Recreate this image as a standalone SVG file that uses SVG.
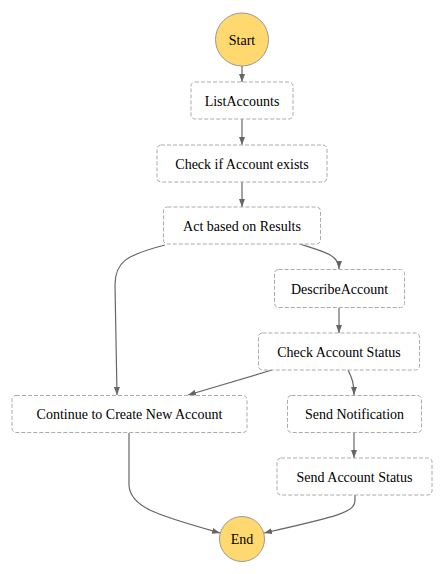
<svg xmlns="http://www.w3.org/2000/svg" width="444" height="574" viewBox="0 0 444 574">
<style>
.node rect{fill:#fff;stroke:#aaa;stroke-width:1;stroke-dasharray:4 2}
.term circle{fill:#ffd970;stroke:#999;stroke-width:1}
text{font-family:"Liberation Serif","Times New Roman",serif;font-size:14px;fill:#000;text-anchor:middle}
.edges path{fill:none;stroke:#666;stroke-width:1.2;marker-end:url(#arr)}
</style>
<defs>
<marker id="arr" viewBox="0 0 8 6" refX="8" refY="3" markerWidth="8" markerHeight="6" markerUnits="userSpaceOnUse" orient="auto">
<path d="M0,0 L8,3 L0,6 Z" fill="#666"/>
</marker>
</defs>
<rect width="444" height="574" fill="#fff"/>
<g class="edges" id="connectors">
<path d="M242,66 L242,82"/>
<path d="M242,119 L242,145"/>
<path d="M242,182 L242,207"/>
<path d="M300,244 C325,252 339,255 339,269"/>
<path d="M165,245 C126,255 115,262 115,285 L117,395"/>
<path d="M339,308 L339,333"/>
<path d="M272,370 L188,395"/>
<path d="M348,370 C352,378 354,383 354,395"/>
<path d="M354,433 L354,458"/>
<path d="M129,433 L129,485 C130,508 160,516 220,533"/>
<path d="M355,495 L355,500 C355,512 340,516 264,533"/>
</g>
<g class="term" id="start"><circle cx="242" cy="39.5" r="26.5"/><text x="242" y="44.5">Start</text></g>
<g class="node" id="listaccounts"><rect x="191" y="82" width="102" height="37" rx="4"/><text x="242" y="105.5">ListAccounts</text></g>
<g class="node" id="checkexists"><rect x="157" y="145" width="170" height="37" rx="4"/><text x="242" y="168.5">Check if Account exists</text></g>
<g class="node" id="actbased"><rect x="163.5" y="207" width="157" height="37" rx="4"/><text x="242" y="230.5">Act based on Results</text></g>
<g class="node" id="describe"><rect x="274.5" y="269.5" width="130" height="38" rx="4"/><text x="339.5" y="293.5">DescribeAccount</text></g>
<g class="node" id="checkstatus"><rect x="258.5" y="333" width="161" height="37" rx="4"/><text x="339" y="356.5">Check Account Status</text></g>
<g class="node" id="continue"><rect x="12" y="395.5" width="235" height="37" rx="4"/><text x="129.5" y="419">Continue to Create New Account</text></g>
<g class="node" id="sendnotif"><rect x="287.5" y="395.5" width="134" height="37" rx="4"/><text x="354.5" y="419">Send Notification</text></g>
<g class="node" id="sendstatus"><rect x="277" y="458" width="155" height="37" rx="4"/><text x="354.5" y="481.5">Send Account Status</text></g>
<g class="term" id="end"><circle cx="242" cy="539" r="22.5"/><text x="242" y="544">End</text></g>
</svg>
